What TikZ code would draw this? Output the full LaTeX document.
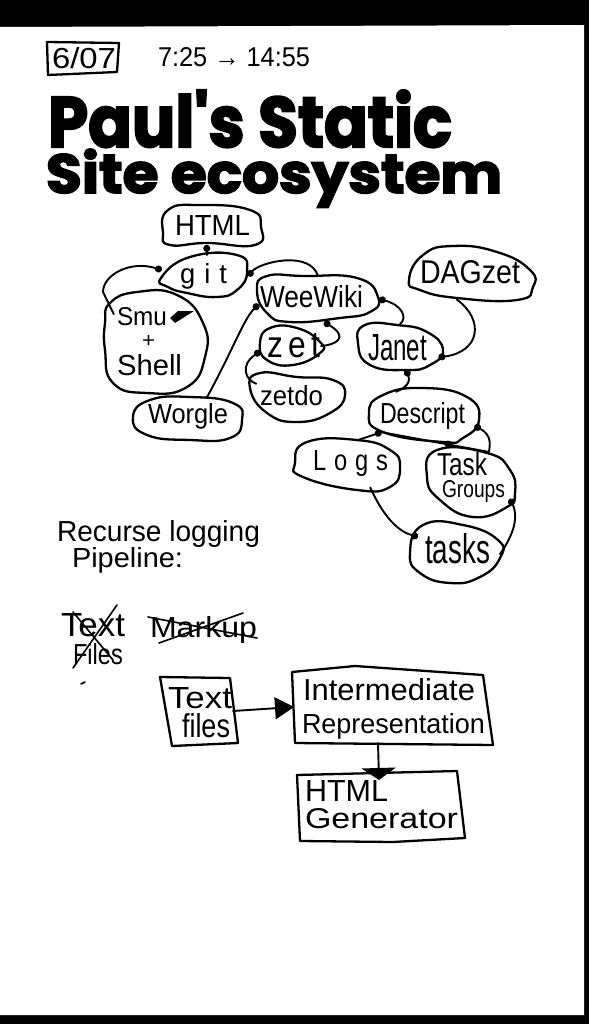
\documentclass[tikz,border=0pt]{standalone}
\usepackage{fontspec}
\usepackage{graphicx}
\usetikzlibrary{arrows.meta,shapes.geometric}
\setmainfont{Liberation Sans}
\newfontfamily\ttlfont[FakeBold=3]{Poppins Bold}
% zero-size text placed at offset (dx,dy) from the node centre, fitted to w x h
\newcommand{\zb}[5]{\makebox[0pt][l]{\hspace*{#1pt}\raisebox{-#2pt}[0pt][0pt]{\resizebox{#3pt}{#4pt}{#5}}}}
\tikzset{
  gn/.style={ellipse,inner sep=0pt,outer sep=0pt},
  bx/.style={rectangle,inner sep=0pt,outer sep=0pt},
  tx/.style={inner sep=0pt,outer sep=0pt,anchor=base west},
  outl/.style={draw=black,line width=2.3pt,line join=round},
  con/.style={draw=black,line width=1.9pt,line cap=round},
  dotend/.style={con,-{Circle[length=7pt,width=7pt]}},
  dotstart/.style={con,{Circle[length=7pt,width=7pt]}-},
  strike/.style={draw=black,line width=1.6pt,line cap=round},
}
\begin{document}
\begin{tikzpicture}[x=1pt,y=-1pt]
\useasboundingbox (0,0) rectangle (589,1024);
\fill[black] (0,0) rectangle (589,1024);
\fill[white] (0,27) -- (584,25) -- (584,1015) -- (0,1015) -- cycle;

% header
\draw[outl] (47,42) -- (119,43) -- (117,72) -- (48,75) -- cycle;
\node[tx] (date) at (52,69) {\resizebox{64pt}{21pt}{6/07}};
\node[tx] (time) at (158,67) {\resizebox{152pt}{19pt}{7:25 → 14:55}};
\node[tx] (title1) at (48,147) {\resizebox{404pt}{57pt}{\ttlfont Paul's Static}};
\node[tx] (title2) at (46,193) {\resizebox{456pt}{44pt}{\ttlfont Site ecosystem}};

% graph nodes
\node[gn,minimum width=98pt,minimum height=40pt] (html) at (212,225) {\zb{-37}{10}{75}{20}{HTML}};
\node[gn,minimum width=88pt,minimum height=42pt] (git) at (204,276) {\zb{-24}{7}{47}{20}{g\,\,i\,\,t}};
\node[gn,minimum width=100pt,minimum height=102pt] (smu) at (155,343) {\zb{-38}{-18}{50}{18}{Smu}\zb{-13}{4}{13}{12}{+}\zb{-38}{32}{65}{21}{Shell}};
\node[gn,minimum width=110pt,minimum height=44pt] (worgle) at (187,418) {\zb{-39}{5}{80}{20}{Worgle}};
\node[gn,minimum width=122pt,minimum height=46pt] (weewiki) at (318,299) {\zb{-58}{8}{103}{22}{WeeWiki}};
\node[gn,minimum width=62pt,minimum height=38pt] (zet) at (290,346) {\zb{-23}{11}{53}{24}{z\,e\,t}};
\node[gn,minimum width=96pt,minimum height=50pt] (zetdo) at (297,397) {\zb{-37}{8}{63}{20}{zetdo}};
\node[gn,minimum width=86pt,minimum height=46pt] (janet) at (400,347) {\zb{-32}{13}{59}{26}{Janet}};
\node[gn,minimum width=124pt,minimum height=54pt] (dagzet) at (471,273) {\zb{-51}{10}{100}{23}{DAGzet}};
\node[gn,minimum width=110pt,minimum height=54pt] (descript) at (424,415) {\zb{-44}{8}{85}{21}{Descript}};
\node[gn,minimum width=105pt,minimum height=50pt] (logs) at (347,465) {\zb{-34}{5}{75}{20}{L\,\,o\,\,g\,\,s}};
\node[gn,minimum width=88pt,minimum height=68pt] (groups) at (471,483) {\zb{-34}{-8}{50}{23}{Task}\zb{-29}{14}{63}{17}{Groups}};
\node[gn,minimum width=90pt,minimum height=60pt] (tasks) at (455,554) {\zb{-30}{9}{65}{30}{tasks}};

% node outlines
\draw[outl] plot[smooth cycle,tension=0.85] coordinates {(163,233) (168,210) (200,205) (250,210) (261,227) (255,245) (207,243) (170,245)};
\draw[outl] plot[smooth cycle,tension=0.85] coordinates {(161,278) (190,257) (237,255) (247,272) (237,290) (217,297) (187,293) (168,287)};
\draw[outl] plot[smooth cycle,tension=0.85] coordinates {(110,303) (137,292) (177,295) (203,323) (205,357) (187,387) (147,393) (113,383) (105,350) (105,323)};
\draw[outl] plot[smooth cycle,tension=0.85] coordinates {(133,417) (150,400) (190,397) (233,403) (242,420) (230,438) (190,440) (147,435)};
\draw[outl] plot[smooth cycle,tension=0.85] coordinates {(257,290) (267,276) (303,276) (357,278) (378,297) (370,312) (340,318) (290,322) (267,313)};
\draw[outl] plot[smooth cycle,tension=0.85] coordinates {(260,343) (270,328) (297,328) (320,342) (320,353) (293,365) (267,360)};
\draw[outl] plot[smooth cycle,tension=0.85] coordinates {(250,388) (260,373) (297,377) (333,380) (345,395) (330,413) (297,422) (267,413)};
\draw[outl] plot[smooth cycle,tension=0.85] coordinates {(358,343) (365,325) (397,325) (427,332) (443,350) (430,365) (407,370) (370,365)};
\draw[outl] plot[smooth cycle,tension=0.85] coordinates {(409,280) (423,255) (453,246) (497,252) (530,270) (533,287) (517,300) (457,298) (420,290)};
\draw[outl] plot[smooth cycle,tension=0.85] coordinates {(369,413) (383,395) (423,388) (467,397) (479,420) (463,438) (443,442) (383,432)};
\draw[outl] plot[smooth cycle,tension=0.85] coordinates {(295,463) (307,442) (357,440) (390,450) (400,467) (390,487) (357,490) (303,477)};
\draw[outl] plot[smooth cycle,tension=0.85] coordinates {(427,477) (437,450) (487,453) (510,470) (515,493) (507,507) (473,517) (440,500)};
\draw[outl] plot[smooth cycle,tension=0.85] coordinates {(410,553) (423,525) (463,525) (498,540) (500,558) (480,577) (450,583) (420,573)};

% blot over "smu"
\fill[black] (175,323) -- (194,311) -- (178,311) -- (170,318) -- cycle;

% graph connectors
\draw[dotstart] (html.255) -- (git.82);
\draw[dotstart] (git.172) .. controls (130,260) and (103,275) .. (103,292) -- (smu.145);
\draw[dotstart] (git.0) .. controls (260,262) and (310,250) .. (weewiki.north);
\draw[dotend] (worgle.46) .. controls (233,350) and (243,320) .. (weewiki.185);
\draw[dotstart] (weewiki.0) .. controls (402,305) and (408,318) .. (janet.north);
\draw[dotstart] (weewiki.285) .. controls (350,338) and (335,345) .. (zet.0);
\draw[dotstart] (zet.190) .. controls (240,365) and (245,380) .. (zetdo.162);
\draw[dotend] (dagzet.241) .. controls (485,320) and (480,352) .. (janet.345);
\draw[dotstart] (janet.285) .. controls (412,385) and (400,390) .. (descript.140);
\draw[dotstart] (descript.202) -- (logs.68);
\draw[con] (descript.202) -- (groups.60);
\fill[black] (448,444) circle (3.5pt);
\draw[dotstart] (descript.348) .. controls (492,435) and (490,445) .. (groups.60);
\draw[dotend] (logs.316) .. controls (385,520) and (400,532) .. (tasks.155);
\draw[dotstart] (groups.338) .. controls (520,520) and (510,540) .. (tasks.0);

% free text
\node[tx] (recurse) at (57,541) {\resizebox{203pt}{21pt}{Recurse logging}};
\node[tx] (pipeline) at (72,567) {\resizebox{111pt}{20pt}{Pipeline:}};
\node[tx] (oldtext) at (61,636) {\resizebox{64pt}{23pt}{Text}};
\node[tx] (oldfiles) at (73,664) {\resizebox{50pt}{21pt}{Files}};
\node[tx] (markup) at (150,637) {\resizebox{107pt}{21pt}{Markup}};
\draw[strike] (73,612) -- (113,660);
\draw[strike] (117,605) -- (73,668);
\draw[strike] (148,617) -- (257,638);
\draw[strike] (159,643) -- (243,613);
\draw[strike] (81,684) -- (85,682);

% pipeline boxes
\node[bx,minimum width=70pt,minimum height=68pt] (textfiles) at (198,711) {\zb{-30}{-3}{64}{21}{Text}\zb{-16}{26}{48}{24}{files}};
\node[bx,minimum width=196pt,minimum height=72pt] (ir) at (392,707) {\zb{-89}{-7}{172}{22}{Intermediate}\zb{-90}{26}{183}{20}{Representation}};
\node[bx,minimum width=165pt,minimum height=68pt] (htmlgen) at (380,806) {\zb{-75}{-5}{83}{21}{HTML}\zb{-75}{22}{153}{20}{Generator}};
\draw[outl] (160,677) -- (230,678) -- (238,743) -- (172,746) -- cycle;
\draw[outl] (292,672) -- (355,666) -- (483,675) -- (493,745) -- (295,743) -- cycle;
\draw[outl] (297,775) -- (457,771) -- (465,838) -- (393,842) -- (300,841) -- cycle;
\draw[con,-{Triangle[length=19pt,width=22pt]}] (textfiles.east) -- (ir.west);
\draw[con,-{Triangle[length=12pt,width=34pt]}] ([xshift=-14pt]ir.south) -- ([xshift=-1pt,yshift=-8pt]htmlgen.north);
\end{tikzpicture}
\end{document}
